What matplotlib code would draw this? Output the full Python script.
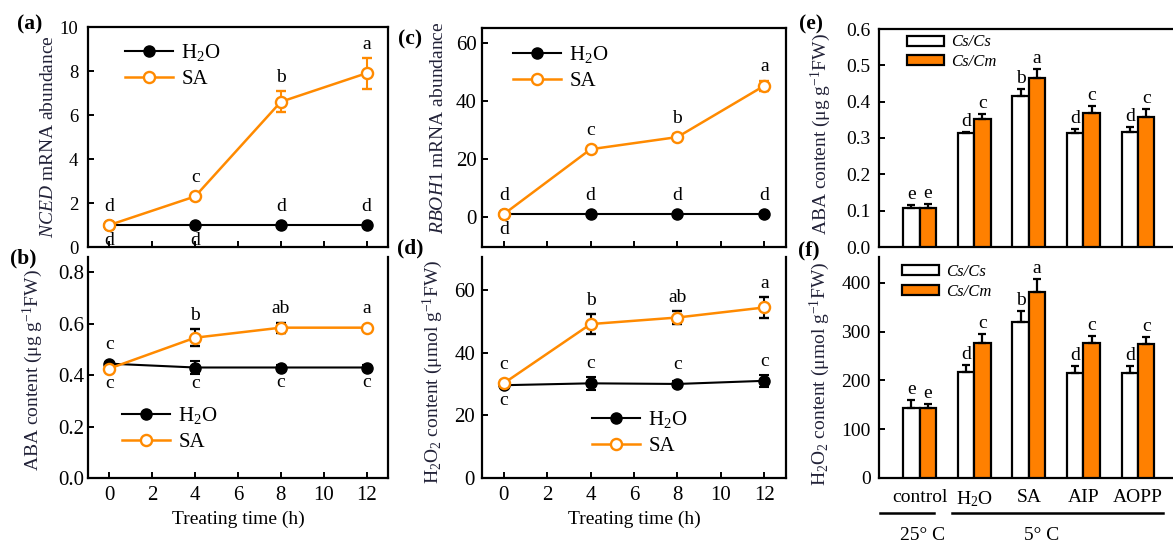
import matplotlib
matplotlib.use("Agg")
import matplotlib.pyplot as plt
from matplotlib.patches import Patch
from matplotlib.lines import Line2D
import matplotlib.transforms as mtransforms

plt.rcParams['font.family'] = ['Liberation Serif', 'DejaVu Serif']
plt.rcParams['mathtext.fontset'] = 'custom'
plt.rcParams['mathtext.rm'] = 'Liberation Serif'
plt.rcParams['mathtext.it'] = 'Liberation Serif:italic'
plt.rcParams['mathtext.bf'] = 'Liberation Serif:bold'

# ---------------- data ----------------
time_h = [0, 4, 8, 12]

nced_h2o = [1.0, 1.0, 1.0, 1.0]
nced_h2o_err = [0.0, 0.0, 0.0, 0.0]
nced_sa = [1.0, 2.3, 6.6, 7.9]
nced_sa_err = [0.05, 0.12, 0.47, 0.70]
nced_h2o_let = ['d', 'd', 'd', 'd']
nced_sa_let = ['d', 'c', 'b', 'a']

aba_h2o = [0.445, 0.43, 0.43, 0.43]
aba_h2o_err = [0.005, 0.026, 0.008, 0.008]
aba_sa = [0.426, 0.546, 0.585, 0.585]
aba_sa_err = [0.005, 0.032, 0.02, 0.005]
aba_h2o_let = ['c', 'c', 'c', 'c']
aba_sa_let = ['c', 'b', 'ab', 'a']

rboh_h2o = [1.0, 1.0, 1.0, 1.0]
rboh_h2o_err = [0.0, 0.0, 0.0, 0.0]
rboh_sa = [1.0, 23.4, 27.6, 45.3]
rboh_sa_err = [0.3, 0.8, 1.0, 1.7]
rboh_h2o_let = ['d', 'd', 'd', 'd']
rboh_sa_let = ['d', 'c', 'b', 'a']

h2o2_h2o = [29.6, 30.2, 30.0, 31.0]
h2o2_h2o_err = [0.5, 2.1, 1.0, 2.0]
h2o2_sa = [30.2, 49.1, 51.2, 54.4]
h2o2_sa_err = [0.8, 3.1, 2.2, 3.3]
h2o2_h2o_let = ['c', 'c', 'c', 'c']
h2o2_sa_let = ['c', 'b', 'ab', 'a']

groups = ['control', 'H$_2$O', 'SA', 'AIP', 'AOPP']
temps = ['25° C', '5° C']

aba_cscs = [0.107, 0.314, 0.416, 0.314, 0.316]
aba_cscs_err = [0.009, 0.003, 0.018, 0.011, 0.013]
aba_cscm = [0.107, 0.352, 0.464, 0.369, 0.358]
aba_cscm_err = [0.011, 0.014, 0.026, 0.018, 0.021]
aba_cscs_let = ['e', 'd', 'b', 'd', 'd']
aba_cscm_let = ['e', 'c', 'a', 'c', 'c']

h2o2_cscs = [144, 217, 320, 216, 216]
h2o2_cscs_err = [16, 14, 22, 14, 14]
h2o2_cscm = [144, 277, 381, 277, 275]
h2o2_cscm_err = [7, 19, 26, 14, 13]
h2o2_cscs_let = ['e', 'd', 'b', 'd', 'd']
h2o2_cscm_let = ['e', 'c', 'a', 'c', 'c']

# ---------------- style ----------------
ORANGE = '#FF8A00'
BAR_ORANGE = '#FF8000'
LABEL_COLOR = '#222238'
W, H = 1173, 543
DPI = 100
TICK_FS = 14
LAB_FS = 14
LET_FS = 14
LEG_FS = 15

fig = plt.figure(figsize=(W / DPI, H / DPI), dpi=DPI)


def rect(l, t, r, b):
    return [l / W, 1 - b / H, (r - l) / W, (b - t) / H]


def style_axes(ax, top=True, right=True, ypad=5, fs=TICK_FS):
    for s in ax.spines.values():
        s.set_linewidth(1.6)
    ax.spines['top'].set_visible(top)
    ax.spines['right'].set_visible(right)
    ax.tick_params(direction='in', length=4, width=1.4, labelsize=fs,
                   top=False, right=False)
    ax.tick_params(axis='y', pad=ypad)


def line_panel(ax, h2o, h2o_err, sa, sa_err, sa_err_color):
    ax.errorbar(time_h, h2o, yerr=h2o_err, color='black', lw=1.5, marker='o',
                ms=8, mfc='black', mec='black', ecolor='black', elinewidth=1.5,
                capsize=3.5, capthick=1.5, zorder=3)
    ax.errorbar(time_h, sa, yerr=sa_err, color=ORANGE, lw=1.8, marker='o',
                ms=8, mfc='white', mec=ORANGE, mew=1.7, ecolor=sa_err_color,
                elinewidth=1.5, capsize=3.5, capthick=1.5, zorder=4)
    ax.set_xlim(-1, 13)
    ax.set_xticks(range(0, 13, 2))


def line_letters(ax, h2o, h2o_err, sa, sa_err, l_h2o, l_sa, gap_up=9, gap_dn=1):
    r = 5.5
    inv = ax.transData.inverted()

    def py(v):
        return ax.transData.transform((0, v))[1]

    for i, x in enumerate(time_h):
        series = [(h2o[i], h2o_err[i], l_h2o[i]), (sa[i], sa_err[i], l_sa[i])]
        hi = max(series, key=lambda s: s[0])
        lo = series[0] if hi is series[1] else series[1]
        tops = [max(py(v + e), py(v) + r) for v, e, _ in series]
        bots = [min(py(v - e), py(v) - r) for v, e, _ in series]
        yd = inv.transform((0, max(tops) + gap_up))[1]
        ax.text(x, yd, hi[2], ha='center', va='baseline', fontsize=LET_FS)
        if py(hi[0]) - py(lo[0]) > 50:
            t = max(py(lo[0] + lo[1]), py(lo[0]) + r)
            yd = inv.transform((0, t + gap_up))[1]
            ax.text(x, yd, lo[2], ha='center', va='baseline', fontsize=LET_FS)
        else:
            yd = inv.transform((0, min(bots) - gap_dn))[1]
            ax.text(x, yd, lo[2], ha='center', va='top', fontsize=LET_FS)


def line_legend(ax, anchor):
    handles = [Line2D([], [], color='black', lw=1.5, marker='o', ms=8,
                      mfc='black', mec='black'),
               Line2D([], [], color=ORANGE, lw=1.8, marker='o', ms=8,
                      mfc='white', mec=ORANGE, mew=1.7)]
    ax.legend(handles, ['H$_2$O', 'SA'], loc='upper left', bbox_to_anchor=anchor,
              frameon=False, fontsize=LEG_FS, handlelength=2.3, handletextpad=0.4,
              labelspacing=0.3, borderpad=0, borderaxespad=0, numpoints=1)


# ---------------- panel a ----------------
ax_a = fig.add_axes(rect(88, 27, 388, 247))
line_panel(ax_a, nced_h2o, nced_h2o_err, nced_sa, nced_sa_err, ORANGE)
ax_a.set_ylim(0, 10)
ax_a.set_yticks(range(0, 11, 2))
style_axes(ax_a, top=True, right=True, ypad=7, fs=13.5)
ax_a.tick_params(axis='x', labelbottom=False)
line_letters(ax_a, nced_h2o, nced_h2o_err, nced_sa, nced_sa_err,
             nced_h2o_let, nced_sa_let)
ax_a.set_ylabel(r'$\mathit{NCED}$ mRNA abundance', fontsize=LAB_FS, color=LABEL_COLOR)
ax_a.yaxis.set_label_coords(-0.103, 0.5)
line_legend(ax_a, (0.123, 0.93))

# ---------------- panel b ----------------
ax_b = fig.add_axes(rect(88, 257, 388, 478))
line_panel(ax_b, aba_h2o, aba_h2o_err, aba_sa, aba_sa_err, 'black')
ax_b.set_ylim(0, 0.86)
ax_b.set_yticks([0.0, 0.2, 0.4, 0.6, 0.8])
ax_b.set_yticklabels(['0.0', '0.2', '0.4', '0.6', '0.8'])
style_axes(ax_b, top=False, right=True, ypad=2.5, fs=15)
ax_b.tick_params(axis='x', pad=6)
line_letters(ax_b, aba_h2o, aba_h2o_err, aba_sa, aba_sa_err,
             aba_h2o_let, aba_sa_let)
ax_b.set_ylabel(r'ABA content (μg g$^{-1}$FW)', fontsize=LAB_FS, color=LABEL_COLOR)
ax_b.yaxis.set_label_coords(-0.143, 0.49)
ax_b.set_xlabel('Treating time (h)', fontsize=LAB_FS)
line_legend(ax_b, (0.113, 0.33))

# ---------------- panel c ----------------
ax_c = fig.add_axes(rect(482, 28, 786, 247))
line_panel(ax_c, rboh_h2o, rboh_h2o_err, rboh_sa, rboh_sa_err, ORANGE)
ax_c.set_ylim(-10.3, 65.2)
ax_c.set_yticks([0, 20, 40, 60])
style_axes(ax_c, top=True, right=True, ypad=4, fs=15)
ax_c.tick_params(axis='x', labelbottom=False)
line_letters(ax_c, rboh_h2o, rboh_h2o_err, rboh_sa, rboh_sa_err,
             rboh_h2o_let, rboh_sa_let)
ax_c.set_ylabel(r'$\mathit{RBOH1}$ mRNA abundance', fontsize=LAB_FS, color=LABEL_COLOR)
ax_c.yaxis.set_label_coords(-0.115, 0.546)
line_legend(ax_c, (0.102, 0.925))

# ---------------- panel d ----------------
ax_d = fig.add_axes(rect(482, 257, 786, 478))
line_panel(ax_d, h2o2_h2o, h2o2_h2o_err, h2o2_sa, h2o2_sa_err, 'black')
ax_d.set_ylim(0, 70.5)
ax_d.set_yticks([0, 20, 40, 60])
style_axes(ax_d, top=False, right=True, ypad=5, fs=15)
ax_d.tick_params(axis='x', pad=6)
line_letters(ax_d, h2o2_h2o, h2o2_h2o_err, h2o2_sa, h2o2_sa_err,
             h2o2_h2o_let, h2o2_sa_let)
ax_d.set_ylabel(r'H$_2$O$_2$ content (μmol g$^{-1}$FW)', fontsize=LAB_FS, color=LABEL_COLOR)
ax_d.yaxis.set_label_coords(-0.122, 0.48)
ax_d.set_xlabel('Treating time (h)', fontsize=LAB_FS)
line_legend(ax_d, (0.362, 0.31))


# ---------------- bar panels ----------------
def bar_panel(ax, v1, e1, v2, e2):
    xs = list(range(len(groups)))
    w = 0.30
    x1 = [x - w / 2 for x in xs]
    x2 = [x + w / 2 for x in xs]
    ax.bar(x1, v1, width=w, color='white', edgecolor='black', lw=1.6,
           yerr=[[0] * len(v1), e1], error_kw=dict(ecolor='black', elinewidth=1.6,
                                                   capsize=2.8, capthick=1.6),
           zorder=3)
    ax.bar(x2, v2, width=w, color=BAR_ORANGE, edgecolor='black', lw=1.6,
           yerr=[[0] * len(v2), e2], error_kw=dict(ecolor='black', elinewidth=1.6,
                                                   capsize=2.8, capthick=1.6),
           zorder=3)
    ax.set_xlim(-0.745, -0.745 + 297 / 54.6)
    return x1, x2


def bar_letters(ax, xs, vals, errs, lets, gap=6):
    inv = ax.transData.inverted()
    for x, v, e, s in zip(xs, vals, errs, lets):
        y = ax.transData.transform((0, v + e))[1] + gap
        yd = inv.transform((0, y))[1]
        ax.text(x, yd, s, ha='center', va='baseline', fontsize=LET_FS)


def bar_legend(ax, anchor):
    handles = [Patch(facecolor='white', edgecolor='black', lw=1.6),
               Patch(facecolor=BAR_ORANGE, edgecolor='black', lw=1.6)]
    ax.legend(handles, ['Cs/Cs', 'Cs/Cm'], loc='upper left', bbox_to_anchor=anchor,
              frameon=False, prop={'family': 'Liberation Serif', 'style': 'italic',
                                   'size': 12},
              handlelength=2.2, handleheight=0.55, handletextpad=0.45,
              labelspacing=0.22, borderpad=0, borderaxespad=0)


ax_e = fig.add_axes(rect(879, 29, 1176, 247))
x1, x2 = bar_panel(ax_e, aba_cscs, aba_cscs_err, aba_cscm, aba_cscm_err)
ax_e.set_ylim(0, 0.6)
ax_e.set_yticks([0.0, 0.1, 0.2, 0.3, 0.4, 0.5, 0.6])
ax_e.set_yticklabels(['0.0', '0.1', '0.2', '0.3', '0.4', '0.5', '0.6'])
style_axes(ax_e, top=True, right=False, ypad=6)
ax_e.tick_params(axis='x', bottom=False, labelbottom=False)
bar_letters(ax_e, x1, aba_cscs, aba_cscs_err, aba_cscs_let)
bar_letters(ax_e, x2, aba_cscm, aba_cscm_err, aba_cscm_let)
ax_e.set_ylabel(r'ABA content (μg g$^{-1}$FW)', fontsize=LAB_FS, color=LABEL_COLOR)
ax_e.yaxis.set_label_coords(-0.155, 0.52)
bar_legend(ax_e, (0.095, 0.975))

ax_f = fig.add_axes(rect(879, 257, 1176, 478))
x1, x2 = bar_panel(ax_f, h2o2_cscs, h2o2_cscs_err, h2o2_cscm, h2o2_cscm_err)
ax_f.set_ylim(0, 453)
ax_f.set_yticks([0, 100, 200, 300, 400])
style_axes(ax_f, top=False, right=False, ypad=6)
ax_f.set_xticks(range(len(groups)))
ax_f.set_xticklabels(groups)
ax_f.tick_params(axis='x', length=0, pad=8)
bar_letters(ax_f, x1, h2o2_cscs, h2o2_cscs_err, h2o2_cscs_let)
bar_letters(ax_f, x2, h2o2_cscm, h2o2_cscm_err, h2o2_cscm_let)
ax_f.set_ylabel(r'H$_2$O$_2$ content (μmol g$^{-1}$FW)', fontsize=LAB_FS, color=LABEL_COLOR)
ax_f.yaxis.set_label_coords(-0.158, 0.47)
bar_legend(ax_f, (0.078, 0.968))

# temperature brackets under panel f
trans = mtransforms.blended_transform_factory(ax_f.transData, ax_f.transAxes)
spans = [(-0.72, 0.27), (0.60, 4.45)]
text_x = [0.05, 2.24]
for (x0, x1_), tx, lab in zip(spans, text_x, temps):
    ax_f.add_line(Line2D([x0, x1_], [-0.158, -0.158], transform=trans, color='black',
                         lw=1.8, clip_on=False))
    ax_f.text(tx, -0.258, lab, transform=trans, ha='center', va='center',
              fontsize=LAB_FS)

# panel letters
panel_pos = [('(a)', 30, 24), ('(b)', 23, 258), ('(c)', 410, 39),
             ('(d)', 410, 248), ('(e)', 811, 24), ('(f)', 809, 250)]
for lab, px, py_ in panel_pos:
    fig.text(px / W, 1 - py_ / H, lab, ha='center', va='center',
             fontsize=15.5, fontweight='bold')

fig.savefig('out.png', dpi=DPI)
